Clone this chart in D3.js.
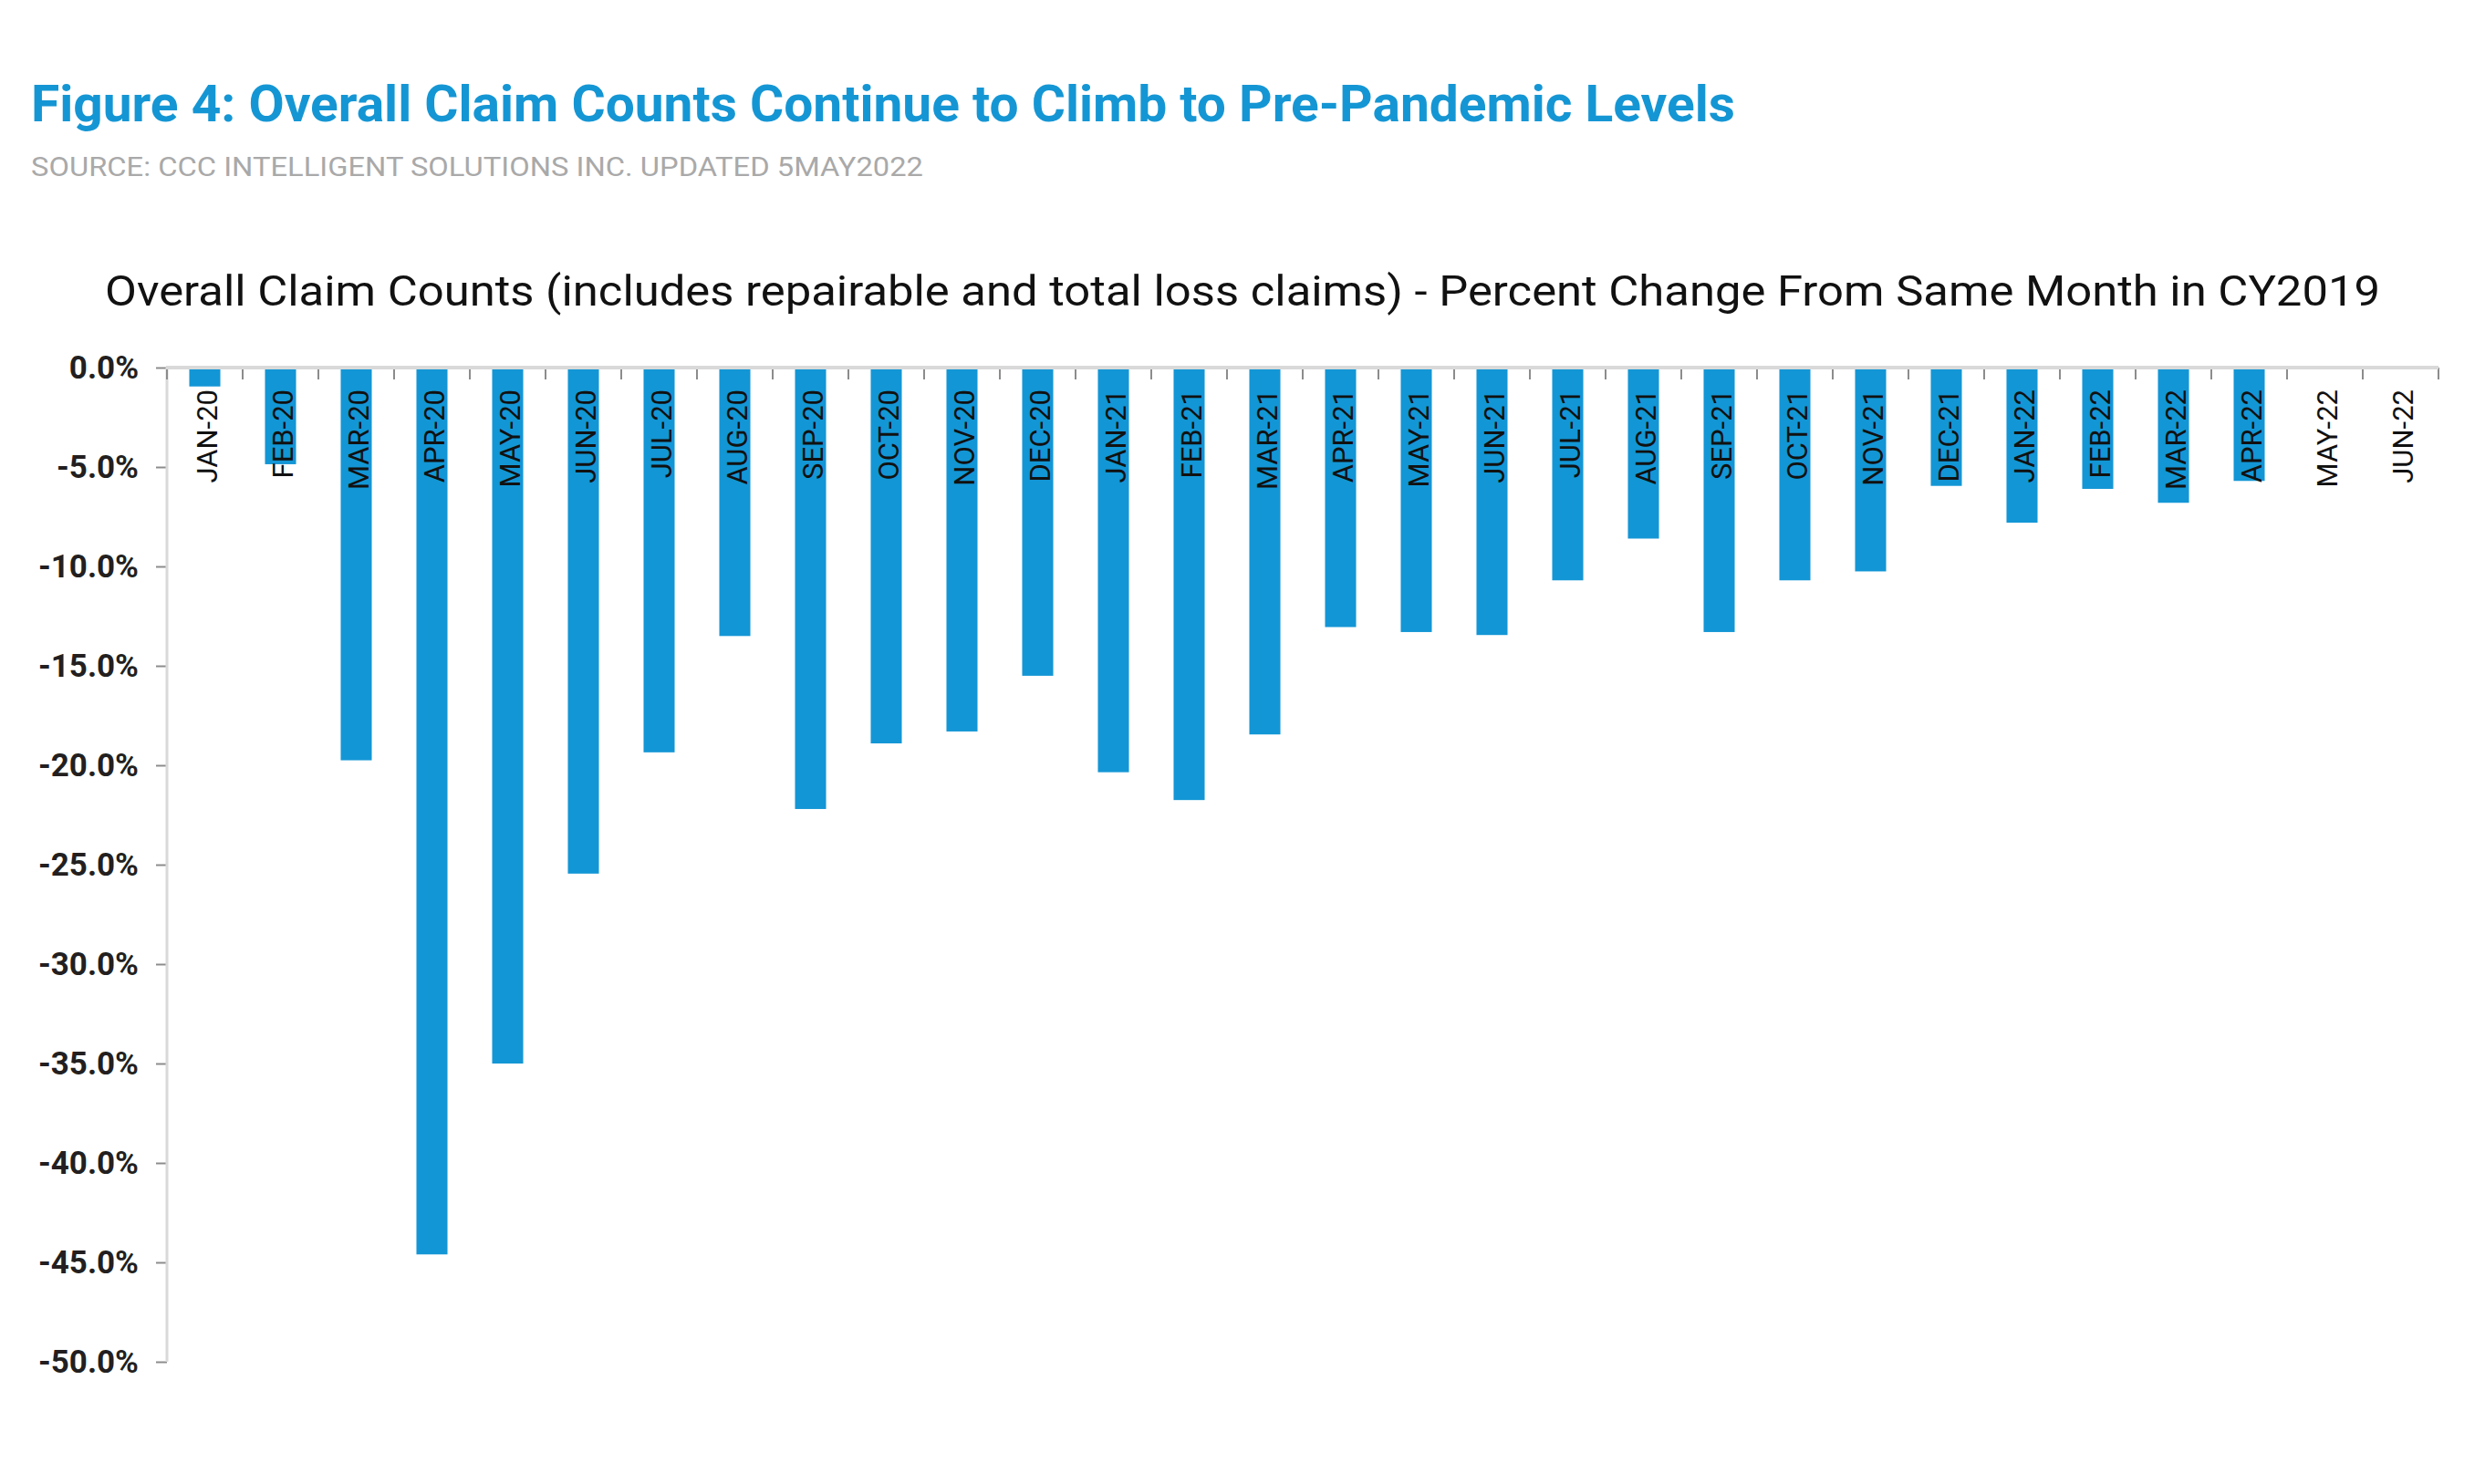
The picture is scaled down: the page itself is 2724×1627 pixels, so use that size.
<!DOCTYPE html>
<html>
<head>
<meta charset="utf-8">
<script src="https://cdn.jsdelivr.net/npm/d3@7"></script>
<style>
  html, body { margin: 0; padding: 0; background: #ffffff; }
  svg { display: block; }
</style>
</head>
<body>
<svg id="chart" width="2724" height="1627"></svg>
<script>
// ---- data ----
const months = ["JAN-20","FEB-20","MAR-20","APR-20","MAY-20","JUN-20","JUL-20","AUG-20","SEP-20","OCT-20","NOV-20","DEC-20",
                "JAN-21","FEB-21","MAR-21","APR-21","MAY-21","JUN-21","JUL-21","AUG-21","SEP-21","OCT-21","NOV-21","DEC-21",
                "JAN-22","FEB-22","MAR-22","APR-22","MAY-22","JUN-22"];
const pctChange = [-0.95, -4.86, -19.75, -44.6, -35.0, -25.45, -19.35, -13.5, -22.2, -18.9, -18.3, -15.5,
                   -20.35, -21.75, -18.45, -13.05, -13.3, -13.45, -10.7, -8.6, -13.3, -10.7, -10.25, -5.95,
                   -7.8, -6.1, -6.8, -5.7, null, null];
const yTickValues = [0, -5, -10, -15, -20, -25, -30, -35, -40, -45, -50];
const titleText = "Figure 4: Overall Claim Counts Continue to Climb to Pre-Pandemic Levels";
const sourceText = "SOURCE: CCC INTELLIGENT SOLUTIONS INC. UPDATED 5MAY2022";
const chartTitleText = "Overall Claim Counts (includes repairable and total loss claims) - Percent Change From Same Month in CY2019";

// ---- layout ----
const W = 2724, H = 1627;
const plot = { left: 183, right: 2673, top: 403, bottom: 1493 };
const blue = "#1396D5";

const svg = d3.select("#chart");
svg.append("rect").attr("width", W).attr("height", H).attr("fill", "#fff");

// Titles
svg.append("text")
  .attr("x", 34).attr("y", 133)
  .attr("font-family", "Roboto, 'Noto Sans', sans-serif")
  .attr("font-weight", 700).attr("font-size", 56)
  .attr("fill", "#1596D4")
  .attr("textLength", 1868).attr("lengthAdjust", "spacingAndGlyphs")
  .text(titleText);

svg.append("text")
  .attr("x", 34).attr("y", 193)
  .attr("font-family", "Roboto, 'Noto Sans', sans-serif")
  .attr("font-weight", 400).attr("font-size", 30)
  .attr("fill", "#a9a9a9")
  .attr("textLength", 978).attr("lengthAdjust", "spacingAndGlyphs")
  .text(sourceText);

svg.append("text")
  .attr("x", 115).attr("y", 335)
  .attr("font-family", "Roboto, 'Noto Sans', sans-serif")
  .attr("font-weight", 400).attr("font-size", 47)
  .attr("fill", "#111")
  .attr("textLength", 2494).attr("lengthAdjust", "spacingAndGlyphs")
  .text(chartTitleText);

// Scales
const x = d3.scaleBand().domain(months).range([plot.left, plot.right]).padding(0);
const y = d3.scaleLinear().domain([0, -50]).range([plot.top, plot.bottom]);
const barW = x.bandwidth() * 0.41;

// Bars
svg.append("g").selectAll("rect")
  .data(months.map((m, i) => ({ m, v: pctChange[i] })).filter(d => d.v !== null))
  .join("rect")
  .attr("x", d => x(d.m) + x.bandwidth() / 2 - barW / 2)
  .attr("width", barW)
  .attr("y", y(0))
  .attr("height", d => y(d.v) - y(0))
  .attr("fill", blue);

// Y axis
const yAxis = d3.axisLeft(y)
  .tickValues(yTickValues)
  .tickFormat(d => d.toFixed(1) + "%")
  .tickSize(12)
  .tickPadding(19);
const gy = svg.append("g").attr("transform", `translate(${plot.left},0)`).call(yAxis);
gy.select(".domain").remove();
gy.selectAll(".tick line").attr("stroke", "#8c8c8c").attr("stroke-width", 2);
gy.selectAll(".tick text")
  .attr("font-family", "Roboto, 'Noto Sans', sans-serif")
  .attr("font-weight", 700).attr("font-size", 35)
  .attr("fill", "#231f20");
svg.append("line")
  .attr("x1", plot.left).attr("x2", plot.left)
  .attr("y1", y(0)).attr("y2", y(-50))
  .attr("stroke", "#d9d9d9").attr("stroke-width", 3);

// X axis: ticks at band boundaries
const boundaries = months.map(m => x(m)).concat([x(months[months.length - 1]) + x.bandwidth()]);
svg.append("g").selectAll("line")
  .data(boundaries)
  .join("line")
  .attr("x1", d => d).attr("x2", d => d)
  .attr("y1", y(0)).attr("y2", y(0) + 13)
  .attr("stroke", "#8c8c8c").attr("stroke-width", 2);
svg.append("line")
  .attr("x1", plot.left - 1).attr("x2", plot.right)
  .attr("y1", y(0)).attr("y2", y(0))
  .attr("stroke", "#d9d9d9").attr("stroke-width", 4);

// X labels (rotated)
svg.append("g").selectAll("text")
  .data(months)
  .join("text")
  .attr("transform", d => `translate(${x(d) + x.bandwidth() / 2},${y(0) + 24}) rotate(-90)`)
  .attr("text-anchor", "end")
  .attr("dy", "0.45em")
  .attr("font-family", "Roboto, 'Noto Sans', sans-serif")
  .attr("font-weight", 400).attr("font-size", 31)
  .attr("fill", "#111")
  .text(d => d);
</script>
</body>
</html>
